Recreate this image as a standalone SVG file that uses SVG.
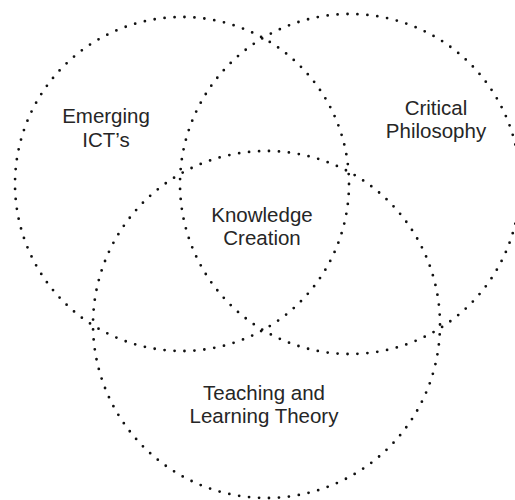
<svg xmlns="http://www.w3.org/2000/svg" width="515" height="500" viewBox="0 0 515 500">
  <style>
    .ring { fill: none; stroke: #111; stroke-width: 2.8; stroke-linecap: round; stroke-dasharray: 0 1; }
    .label { font-family: "Liberation Sans", Arial, sans-serif; font-size: 20.5px; fill: #262626; text-anchor: middle; }
  </style>
  <rect width="515" height="500" fill="#fff"/>
  <g id="connectors"></g>
  <g id="emerging-icts">
    <circle class="ring" cx="182" cy="184" r="167" pathLength="105"/>
    <text class="label" x="106" y="123">Emerging</text>
    <text class="label" x="106" y="147">ICT’s</text>
  </g>
  <g id="critical-philosophy">
    <circle class="ring" cx="350" cy="184" r="170" pathLength="107"/>
    <text class="label" x="436" y="115">Critical</text>
    <text class="label" x="436" y="138">Philosophy</text>
  </g>
  <g id="teaching-learning-theory">
    <circle class="ring" cx="266.5" cy="324.5" r="173.5" pathLength="109"/>
    <text class="label" x="264" y="400">Teaching and</text>
    <text class="label" x="264" y="423">Learning Theory</text>
  </g>
  <g id="knowledge-creation">
    <text class="label" x="262" y="222">Knowledge</text>
    <text class="label" x="262" y="245">Creation</text>
  </g>
</svg>
